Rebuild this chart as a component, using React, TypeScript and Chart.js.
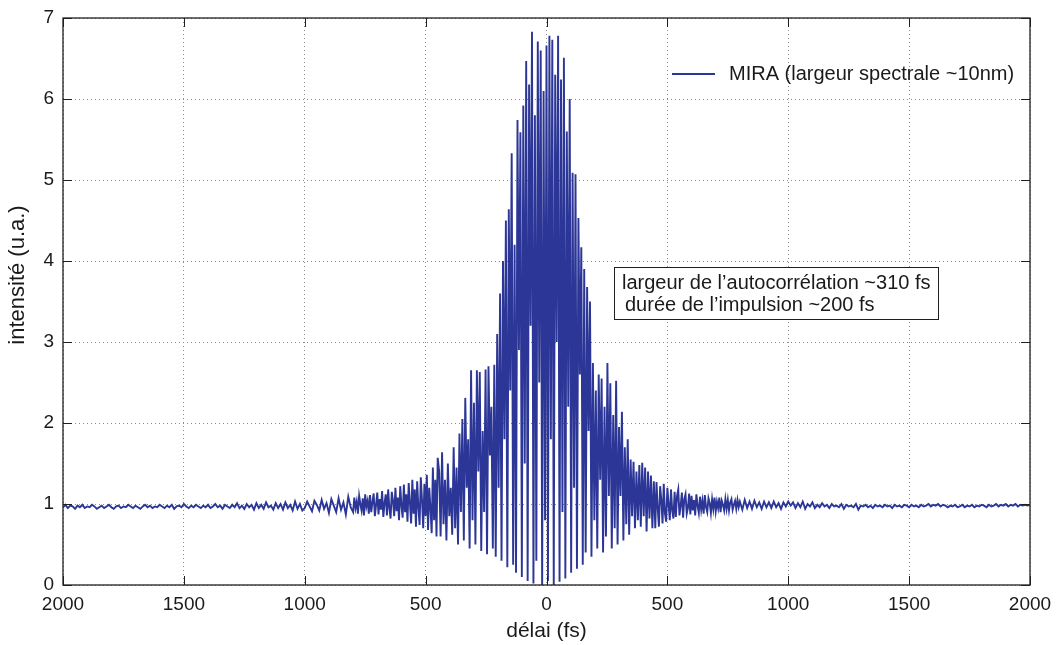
import React, { useEffect, useRef } from "react";
import { Chart, registerables } from "chart.js";

Chart.register(...registerables);

// ---------- texts ----------
const SERIES_LABEL = "MIRA (largeur spectrale ~10nm)";
const X_TITLE = "délai (fs)";
const Y_TITLE = "intensité (u.a.)";
const NOTE_LINES = ["largeur de l’autocorrélation ~310 fs", "durée de l’impulsion ~200 fs"];

// ---------- ticks ----------
const X_TICKS = [-2000, -1500, -1000, -500, 0, 500, 1000, 1500, 2000];
const Y_TICKS = [0, 1, 2, 3, 4, 5, 6, 7];

// ---------- sampling of the delay axis (fs) ----------
const WING_STEP = 10;
const NEAR_STEP = 5;
const CENTRE_STEP = 6;
const LEFT_FAR_START = -2000; // -2000 .. -1010
const LEFT_MID_START = -1000; // -1000 .. -810
const LEFT_NEAR_START = -800; // -800 .. -450
const CENTRE_START = -444; // -444 .. 444
const RIGHT_NEAR_START = 450; // 450 .. 800
const RIGHT_MID_START = 810; // 810 .. 1000
const RIGHT_FAR_START = 1010; // 1010 .. 2000

// ---------- intensity values ----------
const leftFar = [
  0.96, 0.99, 0.95, 0.98, 0.97, 0.94, 0.98, 0.96, 0.99, 0.95,
  0.97, 0.96, 0.99, 0.97, 0.94, 0.96, 0.98, 0.95, 0.97, 0.99,
  0.96, 0.94, 0.97, 0.98, 0.95, 0.97, 0.96, 0.99, 0.97, 0.95,
  0.98, 0.96, 0.94, 0.97, 0.99, 0.96, 0.98, 0.95, 0.97, 0.96,
  0.99, 0.97, 0.95, 0.98, 0.96, 0.99, 0.94, 0.97, 0.98, 0.96,
  1.0, 0.97, 0.95, 0.98, 0.96, 0.99, 0.97, 0.95, 0.98, 0.96,
  0.99, 0.95, 0.97, 1.0, 0.96, 0.98, 0.94, 0.99, 0.97, 0.95,
  0.99, 0.96, 1.01, 0.95, 0.98, 0.94, 1.0, 0.96, 0.99, 0.93,
  1.01, 0.95, 0.99, 0.94, 1.02, 0.96, 0.98, 0.93, 1.01, 0.95,
  1.0, 0.93, 1.02, 0.95, 0.99, 0.92, 1.03, 0.94, 1.0, 0.92,
];

const leftMid = [
  0.95, 1.03, 0.97, 0.91, 1.04, 0.99, 0.92, 1.05, 0.94, 1.01,
  0.89, 1.06, 0.98, 0.9, 1.07, 0.93, 1.02, 0.87, 1.09, 0.96,
];

const leftNear = [
  0.9, 1.08, 0.95, 1.03, 0.88, 1.1, 1.0, 0.92, 1.07, 0.86,
  1.12, 0.97, 1.04, 0.88, 1.11, 0.9, 1.02, 1.13, 0.85, 0.99,
  1.14, 0.87, 1.06, 0.93, 1.16, 0.84, 1.01, 1.12, 0.86, 1.18,
  0.95, 0.82, 1.15, 1.04, 0.85, 1.2, 0.91, 1.08, 0.8, 1.22,
  0.98, 0.83, 1.24, 0.9, 1.12, 0.78, 1.26, 1.02, 0.76, 1.3,
  0.88, 1.18, 0.72, 1.28, 0.96, 0.74, 1.33, 1.05, 0.7, 1.25,
  0.85, 1.36, 0.68, 1.2, 0.95, 0.64, 1.45, 0.8, 1.3, 0.6,
  1.57,
];

const centre = [
  1.4, 0.6, 1.64, 0.75, 1.3, 0.55, 1.5, 0.85, 1.2, 0.62,
  1.7, 0.7, 1.45, 0.5, 1.87, 0.9, 2.05, 0.55, 2.31, 1.2,
  1.8, 0.45, 2.65, 0.8, 2.25, 0.5, 2.65, 1.4, 2.63, 0.42,
  1.9, 0.9, 2.66, 0.38, 2.7, 1.6, 2.2, 0.45, 2.72, 0.35,
  3.1, 1.2, 3.6, 0.3, 4.0, 1.8, 4.5, 0.22, 4.64, 2.4,
  5.33, 0.25, 4.2, 0.15, 5.74, 2.9, 5.59, 0.1, 5.92, 1.5,
  6.47, 0.05, 6.18, 3.2, 6.83, 0.02, 5.8, 0.3, 6.71, 2.5,
  6.6, 0.0, 6.1, 0.8, 6.66, 0.05, 6.78, 1.8, 6.73, 0.0,
  6.3, 3.0, 6.78, 0.04, 6.24, 0.9, 6.51, 0.08, 5.6, 2.2,
  6.0, 0.15, 5.09, 1.2, 5.07, 0.2, 4.53, 2.6, 4.17, 0.25,
  3.9, 0.4, 3.68, 1.9, 3.5, 0.35, 2.74, 0.8, 2.4, 0.45,
  2.6, 1.3, 2.55, 0.4, 2.2, 0.6, 2.74, 1.1, 2.49, 0.45,
  2.1, 0.7, 2.52, 0.5, 1.95, 1.1, 2.14, 0.55, 1.7, 0.75,
  1.8, 0.62, 1.55, 0.85, 1.52, 0.7, 1.4, 0.8, 1.48, 0.72,
  1.51, 0.85, 1.45, 0.66, 1.4, 0.82, 1.35, 0.7, 1.28,
];

const rightNear = [
  0.7, 1.27, 0.95, 0.72, 1.22, 1.05, 0.76, 1.25, 0.88, 0.78,
  1.2, 1.0, 0.8, 1.18, 0.92, 0.82, 1.15, 0.84, 1.1, 1.18,
  0.86, 0.98, 1.14, 0.83, 1.06, 1.12, 0.88, 0.95, 1.13, 0.87,
  1.1, 0.92, 1.05, 0.86, 1.12, 0.98, 0.89, 1.09, 0.93, 1.04,
  0.88, 1.11, 0.96, 0.9, 1.07, 1.01, 0.89, 1.06, 0.94, 1.08,
  0.91, 1.03, 0.95, 1.08, 0.9, 1.04, 0.99, 0.92, 1.06, 0.94,
  1.05, 0.92, 1.02, 1.06, 0.93, 0.99, 1.04, 0.94, 1.05, 0.96,
  1.03,
];

const rightMid = [
  0.93, 1.05, 0.95, 1.03, 0.94, 1.04, 0.96, 1.02, 0.94, 1.03,
  0.96, 1.02, 0.95, 1.03, 0.96, 1.01, 0.94, 1.02, 0.97, 1.03,
];

const rightFar = [
  0.98, 1.02, 0.95, 1.01, 0.96, 1.03, 0.94, 1.0, 0.97, 1.02,
  0.95, 0.99, 0.96, 1.01, 0.97, 0.99, 0.95, 1.0, 0.97, 0.98,
  0.96, 1.0, 0.94, 0.99, 0.97, 0.98, 0.96, 1.0, 0.93, 0.98,
  0.97, 0.99, 0.96, 0.98, 0.95, 0.99, 0.97, 0.98, 0.96, 0.99,
  0.97, 0.98, 0.95, 0.99, 0.97, 0.98, 0.96, 0.99, 0.98, 0.96,
  0.99, 0.97, 0.98, 0.96, 0.99, 0.97, 0.98, 1.0, 0.97, 0.99,
  0.98, 1.0, 0.97, 0.99, 0.98, 0.96, 0.98, 0.97, 0.99, 0.96,
  0.97, 0.99, 0.96, 0.98, 0.97, 0.99, 0.96, 0.98, 0.97, 0.99,
  0.98, 0.96, 0.99, 0.97, 0.98, 1.0, 0.97, 0.99, 0.98, 1.0,
  0.97, 0.99, 0.98, 1.0, 0.97, 0.99, 0.98, 0.99, 0.98, 0.99,
];

// ---------- style ----------
const LINE_COLOR = "#2c3696";
const FONT = '"Liberation Sans", Arial, Helvetica, sans-serif';
const TEXT_COLOR = "#1a1a1a";

type Pt = { x: number; y: number };

function segment(start: number, step: number, values: number[]): Pt[] {
  return values.map((v, i) => ({ x: start + i * step, y: v }));
}

function buildData(): Pt[] {
  return [
    ...segment(LEFT_FAR_START, WING_STEP, leftFar),
    ...segment(LEFT_MID_START, WING_STEP, leftMid),
    ...segment(LEFT_NEAR_START, NEAR_STEP, leftNear),
    ...segment(CENTRE_START, CENTRE_STEP, centre),
    ...segment(RIGHT_NEAR_START, NEAR_STEP, rightNear),
    ...segment(RIGHT_MID_START, WING_STEP, rightMid),
    ...segment(RIGHT_FAR_START, WING_STEP, rightFar),
  ];
}

const framePlugin = {
  id: "matlabFrame",
  afterDraw(chart: any) {
    const { ctx, chartArea, scales } = chart;
    const { left, right, top, bottom } = chartArea;
    const x = scales.x;
    const y = scales.y;
    ctx.save();
    // box
    ctx.strokeStyle = "#1f1f1f";
    ctx.lineWidth = 1.3;
    ctx.setLineDash([]);
    ctx.strokeRect(left, top, right - left, bottom - top);
    // inward ticks on all four sides
    const TL = 9;
    ctx.beginPath();
    X_TICKS.forEach((v) => {
      const px = Math.round(x.getPixelForValue(v)) + 0.5;
      ctx.moveTo(px, bottom);
      ctx.lineTo(px, bottom - TL);
      ctx.moveTo(px, top);
      ctx.lineTo(px, top + TL);
    });
    Y_TICKS.forEach((v) => {
      const py = Math.round(y.getPixelForValue(v)) + 0.5;
      ctx.moveTo(left, py);
      ctx.lineTo(left + TL, py);
      ctx.moveTo(right, py);
      ctx.lineTo(right - TL, py);
    });
    ctx.lineWidth = 1;
    ctx.stroke();

    // legend (inside the axes, upper right)
    const ly = top + 56;
    ctx.strokeStyle = LINE_COLOR;
    ctx.lineWidth = 2;
    ctx.beginPath();
    ctx.moveTo(right - 358, ly);
    ctx.lineTo(right - 315, ly);
    ctx.stroke();
    ctx.fillStyle = TEXT_COLOR;
    ctx.font = `20px ${FONT}`;
    ctx.textBaseline = "middle";
    ctx.textAlign = "left";
    ctx.fillText(chart.data.datasets[0].label, right - 301, ly);

    // annotation box
    const bx = left + 551;
    const by = top + 249;
    const bw = 324;
    const bh = 52;
    ctx.fillStyle = "#ffffff";
    ctx.fillRect(bx, by, bw, bh);
    ctx.strokeStyle = "#1f1f1f";
    ctx.lineWidth = 1;
    ctx.strokeRect(bx + 0.5, by + 0.5, bw, bh);
    ctx.fillStyle = TEXT_COLOR;
    ctx.font = `20px ${FONT}`;
    ctx.fillText(NOTE_LINES[0], bx + 8, by + 16);
    ctx.fillText(NOTE_LINES[1], bx + 11, by + 38);

    // y-axis title
    ctx.save();
    ctx.translate(18, 275);
    ctx.rotate(-Math.PI / 2);
    ctx.textAlign = "center";
    ctx.textBaseline = "middle";
    ctx.font = `22px ${FONT}`;
    ctx.fillStyle = TEXT_COLOR;
    ctx.fillText(Y_TITLE, 0, 0);
    ctx.restore();

    ctx.restore();
  },
};

export default function App() {
  const canvasRef = useRef<HTMLCanvasElement | null>(null);

  useEffect(() => {
    document.body.style.margin = "0";
    const canvas = canvasRef.current;
    if (!canvas) return;
    const chart = new Chart(canvas, {
      type: "line",
      data: {
        datasets: [
          {
            label: SERIES_LABEL,
            data: buildData(),
            borderColor: LINE_COLOR,
            borderWidth: 1.9,
            pointRadius: 0,
            tension: 0,
            fill: false,
          },
        ],
      },
      options: {
        animation: false,
        responsive: false,
        devicePixelRatio: 1,
        parsing: false,
        layout: { padding: { left: 0, right: 29, top: 18, bottom: 0 } },
        plugins: {
          legend: { display: false },
          tooltip: { enabled: false },
        },
        scales: {
          x: {
            type: "linear",
            min: -2000,
            max: 2000,
            afterBuildTicks: (s: any) => {
              s.ticks = X_TICKS.map((v) => ({ value: v }));
            },
            afterFit: (s: any) => {
              s.height = 60;
              s.paddingLeft = 0;
              s.paddingRight = 0;
            },
            grid: {
              color: "#8a8a8a",
              lineWidth: 1,
              drawTicks: false,
            },
            border: { display: false, dash: [1, 3] },
            ticks: {
              padding: 8,
              color: TEXT_COLOR,
              font: { family: FONT, size: 19 },
              maxRotation: 0,
              autoSkip: false,
              callback: (v: any) => String(Math.abs(Number(v))),
            },
            title: {
              display: true,
              text: X_TITLE,
              color: TEXT_COLOR,
              font: { family: FONT, size: 21 },
              padding: { top: 0, bottom: 1 },
            },
          },
          y: {
            type: "linear",
            min: 0,
            max: 7,
            afterBuildTicks: (s: any) => {
              s.ticks = Y_TICKS.map((v) => ({ value: v }));
            },
            afterFit: (s: any) => {
              s.width = 63;
              s.paddingTop = 0;
              s.paddingBottom = 0;
            },
            grid: {
              color: "#8a8a8a",
              lineWidth: 1,
              drawTicks: false,
            },
            border: { display: false, dash: [1, 3] },
            ticks: {
              padding: 9,
              color: TEXT_COLOR,
              font: { family: FONT, size: 19 },
              autoSkip: false,
            },
          },
        },
      },
      plugins: [framePlugin],
    } as any);
    return () => chart.destroy();
  }, []);

  return (
    <canvas
      ref={canvasRef}
      width={1059}
      height={645}
      style={{ display: "block", width: "1059px", height: "645px" }}
    />
  );
}
